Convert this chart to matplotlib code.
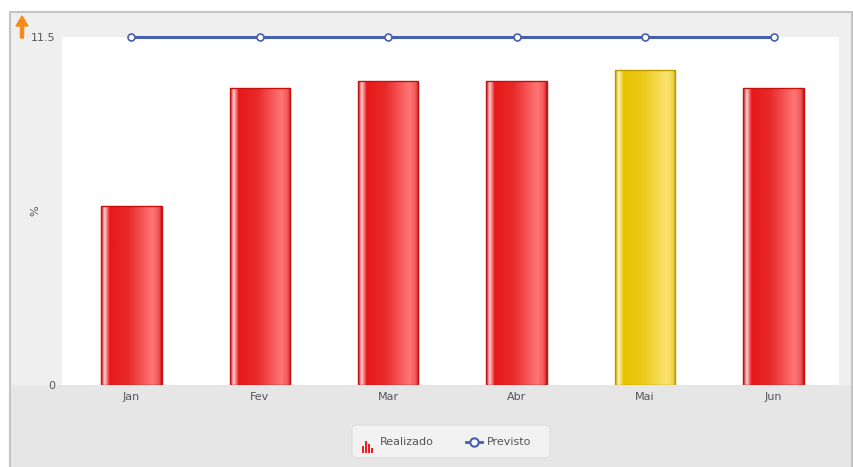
import matplotlib.pyplot as plt
import numpy as np
from matplotlib.patches import Rectangle, FancyBboxPatch, FancyArrow
from matplotlib.colors import LinearSegmentedColormap

meses = ["Jan", "Fev", "Mar", "Abr", "Mai", "Jun"]
realizado = [5.9, 9.8, 10.05, 10.05, 10.4, 9.8]
previsto = [11.5, 11.5, 11.5, 11.5, 11.5, 11.5]
destaque = [False, False, False, False, True, False]

fig = plt.figure(figsize=(8.54, 4.67), dpi=100)
fig.patch.set_facecolor("white")

# moldura cinza do componente
moldura = Rectangle((10 / 854, -0.01), 842 / 854, 1 - 12 / 467 + 0.01, transform=fig.transFigure,
                    facecolor="#efefef", edgecolor="#c4c4c4", linewidth=1.5, zorder=-3)
fig.patches.append(moldura)
rodape = Rectangle((11 / 854, 0), 840 / 854, 82 / 467, transform=fig.transFigure,
                   facecolor="#e6e6e6", edgecolor="none", zorder=-2)
fig.patches.append(rodape)

ax = fig.add_axes([62 / 854, 1 - 385 / 467, 777 / 854, 348 / 467])
ax.set_facecolor("white")
for s in ax.spines.values():
    s.set_visible(False)

x = np.arange(len(meses))
barras = ax.bar(x, realizado, width=0.47, color="none", edgecolor="none", zorder=2)

vermelho = LinearSegmentedColormap.from_list("v", [
    (0.0, "#c81818"), (0.06, "#ffd0d0"), (0.14, "#e81818"), (0.45, "#e82a2a"),
    (0.85, "#ff7676"), (0.95, "#f05a5a"), (1.0, "#c81818")])
amarelo = LinearSegmentedColormap.from_list("a", [
    (0.0, "#c8a800"), (0.06, "#fff4b0"), (0.14, "#e8c200"), (0.45, "#ecc818"),
    (0.85, "#fbe470"), (0.95, "#f2d850"), (1.0, "#c8a800")])
grad = np.linspace(0, 1, 200).reshape(1, -1)
for b, dest in zip(barras, destaque):
    x0, y0 = b.get_x(), b.get_y()
    w, h = b.get_width(), b.get_height()
    im = ax.imshow(grad, cmap=amarelo if dest else vermelho, aspect="auto",
                   extent=[x0, x0 + w, y0, y0 + h], zorder=2)
    clip = Rectangle((x0, y0), w, h, transform=ax.transData, facecolor="none", edgecolor="none")
    ax.add_patch(clip)
    im.set_clip_path(clip)
    ax.add_patch(Rectangle((x0, y0), w, h, facecolor="none",
                           edgecolor="#b89a00" if dest else "#c41010", linewidth=1, zorder=3))

ax.plot(x, previsto, color="#4560ad", linewidth=2.2, marker="o", markersize=5,
        markerfacecolor="white", markeredgecolor="#4560ad", markeredgewidth=1.2, zorder=4, clip_on=False)

ax.set_xlim(-0.54, 5.51)
ax.set_ylim(0, 11.5)
ax.set_xticks(x)
ax.set_xticklabels(meses, fontsize=8, color="#555555")
ax.set_yticks([0, 11.5])
ax.set_yticklabels(["0", "11.5"], fontsize=8, color="#555555")
ax.tick_params(length=0, pad=5)
ax.set_ylabel("%", fontsize=8, color="#555555")
ax.yaxis.set_label_coords(-22 / 777, 0.5)

# seta laranja
fig.patches.append(FancyArrow(
    22 / 854, 1 - 38 / 467, 0, 22 / 467, width=3 / 854, head_width=12 / 854, head_length=10 / 467,
    transform=fig.transFigure, color="#f58a1f", length_includes_head=True, zorder=5))

# legenda
caixa = FancyBboxPatch((352 / 854, 1 - 458 / 467), 198 / 854, 33 / 467, transform=fig.transFigure,
                       boxstyle="round,pad=0,rounding_size=0.008", facecolor="#f2f2f2",
                       edgecolor="#dddddd", linewidth=0.8, zorder=1)
fig.patches.append(caixa)
for i, hgt in enumerate([7, 12, 9, 5]):
    fig.patches.append(Rectangle(((362 + i * 3) / 854, 1 - 453 / 467), 2 / 854, hgt / 467,
                                 transform=fig.transFigure, facecolor="#e82020", zorder=2))
fig.text(380 / 854, 1 - 442 / 467, "Realizado", fontsize=8, color="#555555", va="center")
fig.lines.append(plt.Line2D([466 / 854, 482 / 854], [1 - 442 / 467] * 2, transform=fig.transFigure,
                            color="#4560ad", linewidth=2, zorder=2))
fig.lines.append(plt.Line2D([474 / 854], [1 - 442 / 467], transform=fig.transFigure, color="#4560ad",
                            marker="o", markersize=6, markerfacecolor="white",
                            markeredgewidth=1.5, zorder=3))
fig.text(487 / 854, 1 - 442 / 467, "Previsto", fontsize=8, color="#555555", va="center")

fig.savefig("out.png", dpi=100)
